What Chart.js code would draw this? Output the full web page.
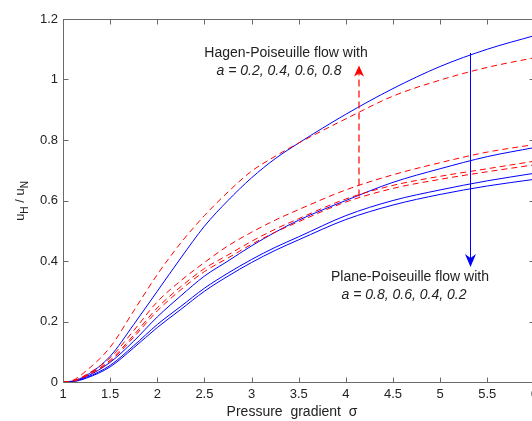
<!DOCTYPE html>
<html>
<head>
<meta charset="utf-8">
<script src="https://cdn.jsdelivr.net/npm/chart.js@4.4.1/dist/chart.umd.min.js"></script>
<style>
    html, body { margin: 0; padding: 0; background: #fff; overflow: hidden; }
    #wrap { position: absolute; left: 0; top: 0; width: 543px; height: 421px; }
</style>
</head>
<body>
<div id="wrap"><canvas id="flowChart" width="543" height="421"></canvas></div>
<script>
// Pressure gradient sigma (x values shared by every curve)
var sigma = [1, 1.1, 1.25, 1.5, 1.75, 2, 2.25, 2.5, 2.75, 3, 3.25, 3.5, 4, 4.5, 5, 5.5, 6];

// Plane-Poiseuille flow (blue solid), a = 0.8, 0.6, 0.4, 0.2
var planeA08 = [0, 0.003, 0.022, 0.085, 0.19, 0.30, 0.41, 0.515, 0.60, 0.675, 0.738, 0.79, 0.885, 0.97, 1.043, 1.10, 1.145];
var planeA06 = [0, 0.002, 0.018, 0.065, 0.135, 0.215, 0.285, 0.35, 0.40, 0.45, 0.495, 0.535, 0.60, 0.66, 0.705, 0.745, 0.775];
var planeA04 = [0, 0.002, 0.015, 0.055, 0.12, 0.19, 0.25, 0.31, 0.36, 0.405, 0.445, 0.48, 0.55, 0.60, 0.635, 0.665, 0.69];
var planeA02 = [0, 0.001, 0.013, 0.05, 0.113, 0.18, 0.24, 0.30, 0.35, 0.395, 0.435, 0.47, 0.537, 0.585, 0.62, 0.648, 0.67];

// Hagen-Poiseuille flow (red dashed), a = 0.2, 0.4, 0.6, 0.8
var hagenA1 = [0, 0.005, 0.038, 0.115, 0.235, 0.355, 0.46, 0.55, 0.628, 0.697, 0.746, 0.79, 0.87, 0.945, 0.998, 1.04, 1.072];
var hagenA2 = [0, 0.003, 0.025, 0.08, 0.17, 0.265, 0.335, 0.395, 0.45, 0.495, 0.535, 0.57, 0.635, 0.685, 0.725, 0.76, 0.785];
var hagenA3 = [0, 0.003, 0.022, 0.072, 0.155, 0.245, 0.315, 0.375, 0.42, 0.465, 0.505, 0.54, 0.605, 0.65, 0.68, 0.705, 0.73];
var hagenA4 = [0, 0.002, 0.02, 0.068, 0.148, 0.235, 0.305, 0.365, 0.41, 0.455, 0.495, 0.53, 0.595, 0.64, 0.67, 0.695, 0.718];

// Tick values and labels
var xTicks = [1, 1.5, 2, 2.5, 3, 3.5, 4, 4.5, 5, 5.5, 6];
var xTickLabels = ['1', '1.5', '2', '2.5', '3', '3.5', '4', '4.5', '5', '5.5', '6'];
var yTicks = [0, 0.2, 0.4, 0.6, 0.8, 1, 1.2];
var yTickLabels = ['0', '0.2', '0.4', '0.6', '0.8', '1', '1.2'];

// Annotation arrows in data units: [sigma, from, to]
var hagenArrow = [4.14, 0.613, 1.046];
var planeArrow = [5.32, 1.088, 0.38];

function pts(ys) {
    return ys.map(function (y, i) { return { x: sigma[i], y: y }; });
}

var BLUE = '#0000ff';
var RED = '#ff0000';
var FONT = '"Liberation Sans", Arial, sans-serif';

function solid(data) {
    return { data: pts(data), borderColor: BLUE, borderWidth: 1, pointRadius: 0, fill: false, cubicInterpolationMode: 'monotone' };
}
function dashed(data) {
    return { data: pts(data), borderColor: RED, borderWidth: 1, borderDash: [6, 4], pointRadius: 0, fill: false, cubicInterpolationMode: 'monotone' };
}

// Box, inward ticks, arrows and texts
var decorPlugin = {
    id: 'decor',
    afterDraw: function (chart) {
        var ctx = chart.ctx;
        var a = chart.chartArea;
        var xs = chart.scales.x, ys = chart.scales.y;
        var L = Math.round(a.left) + 0.5, R = Math.round(a.right) + 0.5;
        var T = Math.round(a.top) + 0.5, B = Math.round(a.bottom) + 0.5;

        ctx.save();
        ctx.strokeStyle = '#6a6a6a';
        ctx.lineWidth = 1;
        ctx.strokeRect(L, T, R - L, B - T);
        ctx.beginPath();
        xTicks.forEach(function (v) {
            var px = Math.round(xs.getPixelForValue(v)) + 0.5;
            ctx.moveTo(px, B); ctx.lineTo(px, B - 5);
            ctx.moveTo(px, T); ctx.lineTo(px, T + 5);
        });
        yTicks.forEach(function (v) {
            var py = Math.round(ys.getPixelForValue(v)) + 0.5;
            ctx.moveTo(L, py); ctx.lineTo(L + 5, py);
            ctx.moveTo(R, py); ctx.lineTo(R - 5, py);
        });
        ctx.stroke();

        // red dashed arrow (up)
        var hx = Math.round(xs.getPixelForValue(hagenArrow[0]));
        var hy0 = ys.getPixelForValue(hagenArrow[1]);
        var hy1 = ys.getPixelForValue(hagenArrow[2]);
        ctx.strokeStyle = RED;
        ctx.lineWidth = 1.2;
        ctx.setLineDash([7, 4]);
        ctx.beginPath(); ctx.moveTo(hx, hy0); ctx.lineTo(hx, hy1 + 8); ctx.stroke();
        ctx.setLineDash([]);
        ctx.lineWidth = 1;
        ctx.fillStyle = RED;
        ctx.beginPath();
        ctx.moveTo(hx, hy1);
        ctx.lineTo(hx - 5, hy1 + 11);
        ctx.lineTo(hx, hy1 + 8);
        ctx.lineTo(hx + 5, hy1 + 11);
        ctx.closePath(); ctx.fill();

        // blue arrow (down)
        var bx = Math.round(xs.getPixelForValue(planeArrow[0])) + 0.5;
        var by0 = ys.getPixelForValue(planeArrow[1]);
        var by1 = ys.getPixelForValue(planeArrow[2]);
        ctx.strokeStyle = BLUE;
        ctx.beginPath(); ctx.moveTo(bx, by0); ctx.lineTo(bx, by1 - 8); ctx.stroke();
        ctx.fillStyle = BLUE;
        ctx.beginPath();
        ctx.moveTo(bx, by1);
        ctx.lineTo(bx - 5.5, by1 - 13);
        ctx.lineTo(bx, by1 - 9);
        ctx.lineTo(bx + 5.5, by1 - 13);
        ctx.closePath(); ctx.fill();

        // annotations
        ctx.fillStyle = '#222';
        ctx.textAlign = 'center';
        ctx.textBaseline = 'alphabetic';
        ctx.font = '14px ' + FONT;
        ctx.fillText('Hagen-Poiseuille flow with', 286, 57);
        ctx.fillText('Plane-Poiseuille flow with', 410, 281);
        ctx.font = 'italic 14px ' + FONT;
        ctx.fillText('a = 0.2, 0.4, 0.6, 0.8', 279, 75);
        ctx.fillText('a = 0.8, 0.6, 0.4, 0.2', 404, 299);

        // x axis title
        ctx.font = '14px ' + FONT;
        ctx.fillText('Pressure  gradient  \u03c3', 292, 416);

        // y axis title u_H / u_N, rotated
        ctx.translate(24, (T + B) / 2);
        ctx.rotate(-Math.PI / 2);
        ctx.textAlign = 'left';
        var big = '13px ' + FONT, small = '10px ' + FONT;
        var parts = [['u', big, 0], ['H', small, 4], [' / ', big, 0], ['u', big, 0], ['N', small, 4]];
        var w = 0;
        parts.forEach(function (p) { ctx.font = p[1]; w += ctx.measureText(p[0]).width; });
        var cx = -w / 2;
        parts.forEach(function (p) {
            ctx.font = p[1];
            ctx.fillText(p[0], cx, p[2]);
            cx += ctx.measureText(p[0]).width;
        });
        ctx.restore();
    }
};

new Chart(document.getElementById('flowChart'), {
    type: 'line',
    data: {
        datasets: [
            dashed(hagenA1), dashed(hagenA2), dashed(hagenA3), dashed(hagenA4),
            solid(planeA08), solid(planeA06), solid(planeA04), solid(planeA02)
        ]
    },
    options: {
        responsive: false,
        animation: false,
        events: [],
        layout: { padding: { top: 19, right: 2, left: 0, bottom: 0 } },
        plugins: { legend: { display: false }, tooltip: { enabled: false } },
        scales: {
            x: {
                type: 'linear',
                min: 1, max: 6,
                grid: { display: false, drawTicks: false },
                border: { display: false },
                afterBuildTicks: function (axis) {
                    axis.ticks = xTicks.map(function (v) { return { value: v }; });
                },
                afterFit: function (axis) { axis.height = 39; },
                ticks: {
                    color: '#222',
                    padding: 5,
                    maxRotation: 0,
                    autoSkip: false,
                    font: { size: 13, family: FONT },
                    callback: function (v, i) { return xTickLabels[i]; }
                }
            },
            y: {
                min: 0, max: 1.2,
                grid: { display: false, drawTicks: false },
                border: { display: false },
                afterBuildTicks: function (axis) {
                    axis.ticks = yTicks.map(function (v) { return { value: v }; });
                },
                afterFit: function (axis) { axis.width = 63; },
                ticks: {
                    color: '#222',
                    padding: 5,
                    autoSkip: false,
                    font: { size: 13, family: FONT },
                    callback: function (v, i) { return yTickLabels[i]; }
                }
            }
        }
    },
    plugins: [decorPlugin]
});
</script>
</body>
</html>
